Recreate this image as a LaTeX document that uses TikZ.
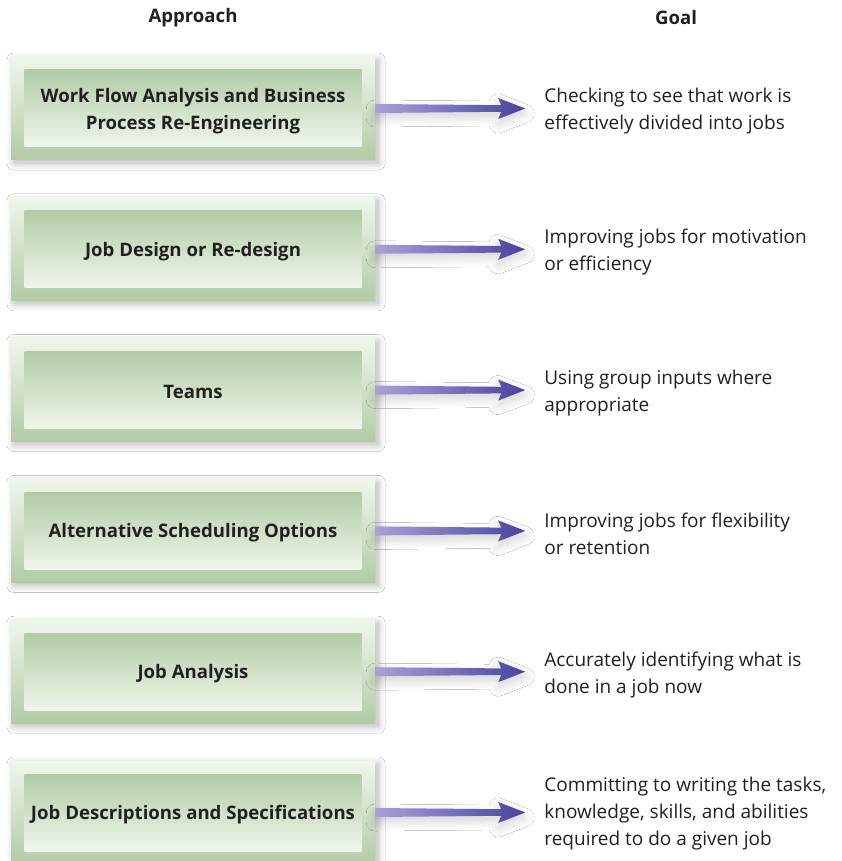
\documentclass[tikz,border=0pt]{standalone}
\usepackage{fontspec}
\setmainfont{Open Sans}
\usetikzlibrary{positioning,shadows.blur}

\definecolor{boxlight}{HTML}{EFF6EB}
\definecolor{boxgreen}{HTML}{B2CBA6}
\definecolor{arrowlight}{HTML}{A9A1D9}
\definecolor{arrowdark}{HTML}{4A429E}
\definecolor{inkgray}{HTML}{231F20}

\begin{document}
\begin{tikzpicture}[
  x=1pt, y=-1pt,
  font=\fontsize{19}{27}\selectfont, text=inkgray,
  outerbox/.style={minimum width=364pt, minimum height=103pt, inner sep=0pt,
    top color=boxlight, bottom color=boxgreen,
    blur shadow={shadow xshift=3pt, shadow yshift=-3pt, shadow blur radius=7pt,
      shadow blur steps=20, shadow opacity=30}},
  innerbox/.style={minimum width=337pt, minimum height=77pt, inner sep=0pt,
    top color=boxgreen, bottom color=boxlight},
  boxtext/.style={inner sep=0pt, align=center, font=\fontsize{18.6}{27}\selectfont\bfseries},
  goal/.style={inner sep=0pt, align=left},
  head/.style={font=\fontsize{18.6}{27}\selectfont\bfseries},
  arr/.style={left color=arrowlight, right color=arrowdark,
    blur shadow={shadow xshift=0pt, shadow yshift=-5pt, shadow blur radius=9pt,
      shadow blur steps=20, shadow opacity=18}}
]
\useasboundingbox[fill=white] (0,0) rectangle (842,861);
\node[head] (approach) at (193,18) {Approach};
\node[head] (goalhead) at (676,18) {Goal};
% approach column
\node[outerbox] (b1) at (193,108.5) {};
\node[outerbox, below=37.4pt of b1] (b2) {};
\node[outerbox, below=37.4pt of b2] (b3) {};
\node[outerbox, below=37.4pt of b3] (b4) {};
\node[outerbox, below=37.4pt of b4] (b5) {};
\node[outerbox, below=37.4pt of b5] (b6) {};
\node[innerbox] (p1) at (b1) {};
\node[innerbox] (p2) at (b2) {};
\node[innerbox] (p3) at (b3) {};
\node[innerbox] (p4) at (b4) {};
\node[innerbox] (p5) at (b5) {};
\node[innerbox] (p6) at (b6) {};
\node[boxtext] (a1) at ([yshift=-3pt]p1) {Work Flow Analysis and Business\\Process Re-Engineering};
\node[boxtext] (a2) at ([yshift=-2pt]p2) {Job Design or Re-design};
\node[boxtext] (a3) at ([yshift=-2pt]p3) {Teams};
\node[boxtext] (a4) at ([yshift=-2pt]p4) {Alternative Scheduling Options};
\node[boxtext] (a5) at ([yshift=-2pt]p5) {Job Analysis};
\node[boxtext] (a6) at ([yshift=-2pt]p6) {Job Descriptions and Specifications};
% goal column
\node[goal, right=169pt of b1, yshift=-3pt] (g1) {Checking to see that work is\\effectively divided into jobs};
\node[goal, right=169pt of b2, yshift=-3pt] (g2) {Improving jobs for motivation\\or efficiency};
\node[goal, right=169pt of b3, yshift=-3pt] (g3) {Using group inputs where\\appropriate};
\node[goal, right=169pt of b4, yshift=-3pt] (g4) {Improving jobs for flexibility\\or retention};
\node[goal, right=169pt of b5, yshift=-3pt] (g5) {Accurately identifying what is\\done in a job now};
\node[goal, right=169pt of b6, yshift=-1pt] (g6) {Committing to writing the tasks,\\knowledge, skills, and abilities\\required to do a given job};
% arrows
\foreach \i in {1,...,6}{
  \shade[arr] ([yshift=-4.5pt]b\i.east) -- ([xshift=126pt,yshift=-3.3pt]b\i.east)
    -- ([xshift=123pt,yshift=-10.5pt]b\i.east) -- ([xshift=150pt]b\i.east)
    -- ([xshift=123pt,yshift=10.5pt]b\i.east) -- ([xshift=126pt,yshift=3.3pt]b\i.east)
    -- ([yshift=4.5pt]b\i.east) -- cycle;
}
\end{tikzpicture}
\end{document}
